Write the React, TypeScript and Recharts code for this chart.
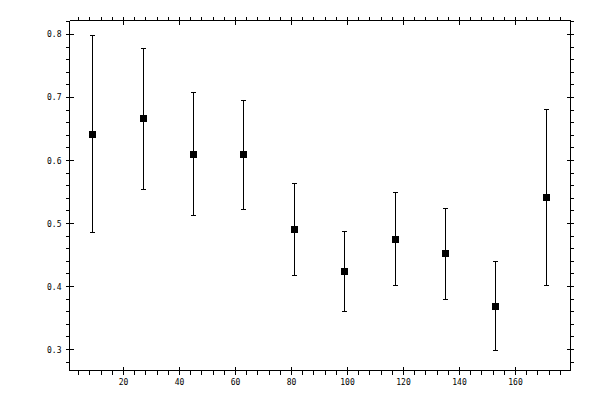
import React from 'react';
import { ComposedChart, Scatter, ErrorBar, XAxis, YAxis } from 'recharts';

// values
const xValues = [9, 27, 45, 63, 81, 99, 117, 135, 153, 171];
const yValues = [0.642, 0.666, 0.61, 0.609, 0.49, 0.424, 0.475, 0.452, 0.369, 0.541];
const yErrors = [0.156, 0.112, 0.098, 0.087, 0.073, 0.064, 0.074, 0.072, 0.071, 0.14];

const xMajor = [20, 40, 60, 80, 100, 120, 140, 160];
const yMajor = [0.3, 0.4, 0.5, 0.6, 0.7, 0.8];
const xLabels = ['20', '40', '60', '80', '100', '120', '140', '160'];
const yLabels = ['0.3', '0.4', '0.5', '0.6', '0.7', '0.8'];

const xTicks = Array.from({ length: 44 }, (_, i) => (i + 1) * 4);
const yTicks = Array.from({ length: 28 }, (_, i) => (28 + i * 2) / 100);

const X_DOMAIN: [number, number] = [0.714, 179.64];
const Y_DOMAIN: [number, number] = [0.2667, 0.8222];

const data = xValues.map((x, i) => ({ x, y: yValues[i], err: yErrors[i] }));

const FONT = '"DejaVu Sans Mono", monospace';

const isMajorX = (v: number) => xMajor.includes(v);
const isMajorY = (v: number) => yMajor.some((m) => Math.abs(m - v) < 1e-6);

function BottomTick({ x, y, payload }: any) {
  const major = isMajorX(payload.value);
  const idx = xMajor.indexOf(payload.value);
  return (
    <g>
      <line x1={x} x2={x} y1={major ? y - 4 : y} y2={y + 4} stroke="#000" />
      {major && (
        <text x={x} y={y + 14} textAnchor="middle" fontSize={8} fontFamily={FONT} fill="#000">
          {xLabels[idx]}
        </text>
      )}
    </g>
  );
}

function TopTick({ x, y, payload }: any) {
  const major = isMajorX(payload.value);
  return <line x1={x} x2={x} y1={y - 4} y2={major ? y + 4 : y} stroke="#000" />;
}

function LeftTick({ x, y, payload }: any) {
  const major = isMajorY(payload.value);
  const idx = yMajor.findIndex((m) => Math.abs(m - payload.value) < 1e-6);
  return (
    <g>
      <line x1={x - 3.5} x2={major ? x + 4 : x} y1={y} y2={y} stroke="#000" />
      {major && (
        <text x={x - 8} y={y + 3} textAnchor="end" fontSize={8} fontFamily={FONT} fill="#000">
          {yLabels[idx]}
        </text>
      )}
    </g>
  );
}

function RightTick({ x, y, payload }: any) {
  const major = isMajorY(payload.value);
  return <line x1={major ? x - 4 : x} x2={x + 3.5} y1={y} y2={y} stroke="#000" />;
}

function SquareMarker({ cx, cy }: any) {
  return <rect x={cx - 3.5} y={cy - 3.5} width={7} height={7} fill="#000" />;
}

const NoMarker = () => <g />;

export default function App() {
  return (
    <div style={{ position: 'absolute', left: 0, top: 0, background: '#fff' }}>
      <ComposedChart
        width={600}
        height={400}
        data={data}
        margin={{ top: 0, right: 0, bottom: 0, left: 0 }}
        style={{ shapeRendering: 'crispEdges' }}
      >
        <XAxis
          xAxisId="bottom"
          dataKey="x"
          type="number"
          domain={X_DOMAIN}
          ticks={xTicks}
          interval={0}
          height={29.5}
          tickSize={0}
          tickMargin={0}
          tickLine={false}
          axisLine={{ stroke: '#000' }}
          tick={<BottomTick />}
        />
        <XAxis
          xAxisId="top"
          dataKey="x"
          orientation="top"
          type="number"
          domain={X_DOMAIN}
          ticks={xTicks}
          interval={0}
          height={20.5}
          tickSize={0}
          tickMargin={0}
          tickLine={false}
          axisLine={{ stroke: '#000' }}
          tick={<TopTick />}
        />
        <YAxis
          yAxisId="left"
          type="number"
          domain={Y_DOMAIN}
          ticks={yTicks}
          interval={0}
          width={69.5}
          tickSize={0}
          tickMargin={0}
          tickLine={false}
          axisLine={{ stroke: '#000' }}
          tick={<LeftTick />}
        />
        <YAxis
          yAxisId="right"
          orientation="right"
          type="number"
          domain={Y_DOMAIN}
          ticks={yTicks}
          interval={0}
          width={29.5}
          tickSize={0}
          tickMargin={0}
          tickLine={false}
          axisLine={{ stroke: '#000' }}
          tick={<RightTick />}
        />
        <Scatter
          xAxisId="top"
          yAxisId="right"
          dataKey="y"
          shape={<NoMarker />}
          isAnimationActive={false}
        />
        <Scatter
          xAxisId="bottom"
          yAxisId="left"
          dataKey="y"
          fill="#000"
          shape={<SquareMarker />}
          isAnimationActive={false}
        >
          <ErrorBar dataKey="err" direction="y" width={2.5} stroke="#000" strokeWidth={1} isAnimationActive={false} />
        </Scatter>
      </ComposedChart>
    </div>
  );
}
